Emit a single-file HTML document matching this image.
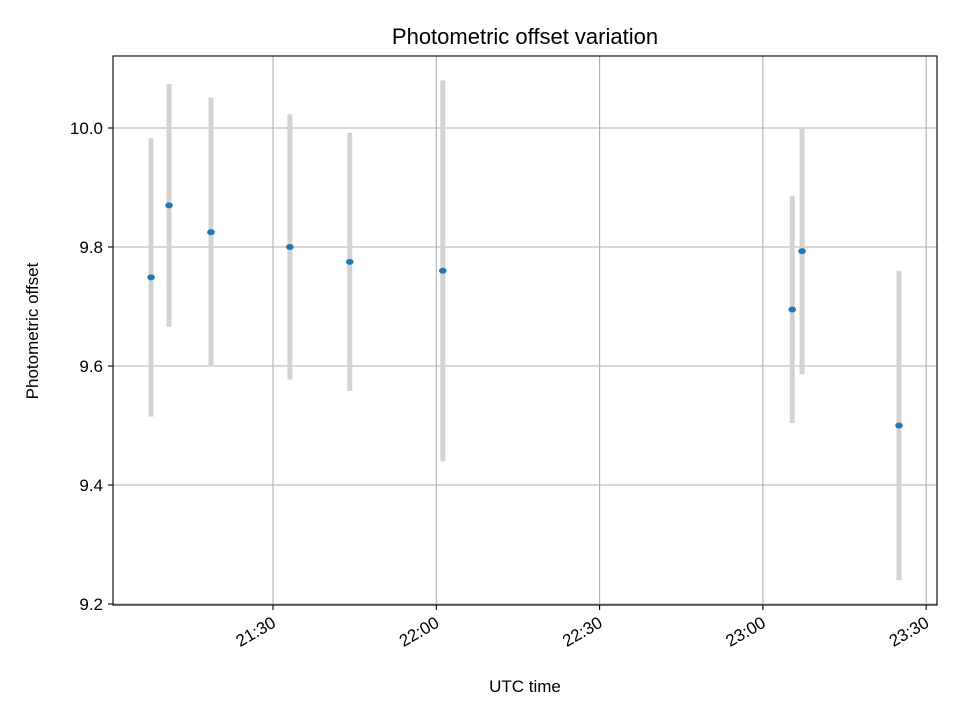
<!DOCTYPE html>
<html><head><meta charset="utf-8"><style>body{margin:0;background:#fff}svg{display:block}text{font-family:"Liberation Sans","DejaVu Sans",sans-serif;fill:#000}</style></head>
<body>
<svg id="chart" width="960" height="720" viewBox="0 0 960 720">
<rect width="960" height="720" fill="#fff"/>
<g id="grid"></g>
<g id="bars"></g>
<g id="pts"></g>
<rect x="113" y="56" width="824" height="549" fill="none" stroke="#000" stroke-width="1.1"/>
<g id="ticks"></g>
<text x="525" y="44" font-size="22" text-anchor="middle">Photometric offset variation</text>
<text x="525" y="692" font-size="17" text-anchor="middle">UTC time</text>
<text transform="translate(38,331) rotate(-90)" font-size="17" text-anchor="middle">Photometric offset</text>
</svg>
<script>
// minutes since 21:00 UTC
const times=[7.6,10.9,18.6,33.1,44.1,61.2,125.4,127.2,145.0];
const offsets=[9.749,9.870,9.825,9.800,9.775,9.760,9.695,9.793,9.500];
const errors=[0.234,0.204,0.226,0.223,0.217,0.320,0.191,0.207,0.260];
const xTicks=[30,60,90,120,150];
const xTickLabels=["21:30","22:00","22:30","23:00","23:30"];
const yTicks=[9.2,9.4,9.6,9.8,10.0];
const yTickLabels=["9.2","9.4","9.6","9.8","10.0"];
const NS="http://www.w3.org/2000/svg";
function xs(m){return 273+(m-30)*5.443;}
function ys(v){return 128+(10-v)*595;}
function mk(t,a,p){const e=document.createElementNS(NS,t);for(const k in a)e.setAttribute(k,a[k]);p.appendChild(e);return e;}
const grid=document.getElementById('grid'),ticks=document.getElementById('ticks');
xTicks.forEach((m,i)=>{const x=xs(m);
 const g=mk('line',{x1:x,x2:x,y1:56,y2:605,stroke:'#b0b0b0','stroke-width':1.1},grid);
 
 
 const t=mk('line',{x1:x,x2:x,y1:605,y2:610,stroke:'#000','stroke-width':1.1},ticks);
 
 
 const l=mk('text',{transform:`translate(${x+4},${626}) rotate(-30)`,'font-size':17,'text-anchor':'end'},ticks);
 l.textContent=xTickLabels[i];
 
 
});
yTicks.forEach((v,i)=>{const y=ys(v);
 const g=mk('line',{x1:113,x2:937,y1:y,y2:y,stroke:'#b0b0b0','stroke-width':1.1},grid);
 
 
 const t=mk('line',{x1:108,x2:113,y1:y,y2:y,stroke:'#000','stroke-width':1.1},ticks);
 
 
 const l=mk('text',{x:103,y:y+6,'font-size':17,'text-anchor':'end'},ticks);
 l.textContent=yTickLabels[i];
 
 
});
const bars=document.getElementById('bars'),pts=document.getElementById('pts');
times.forEach((m,i)=>{const x=xs(m);
 const b=mk('line',{x1:x,x2:x,y1:ys(offsets[i]+errors[i]),y2:ys(offsets[i]-errors[i]),stroke:'#d3d3d3','stroke-width':5},bars);
 
 
 const p=mk('ellipse',{cx:x,cy:ys(offsets[i]),rx:3.8,ry:3,fill:'#1f77b4'},pts);
 
 
});
</script>
</body></html>
